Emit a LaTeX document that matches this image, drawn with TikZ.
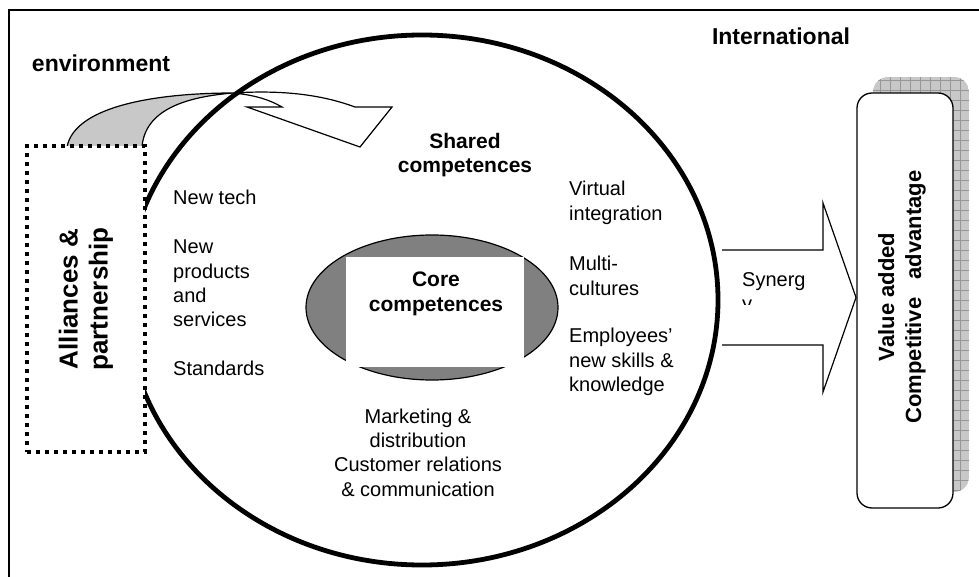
\documentclass[tikz,border=0pt]{standalone}
\usepackage{fontspec}
\setmainfont{Liberation Sans}
\usetikzlibrary{shapes.geometric}
\tikzset{
  txt/.style={inner sep=0pt, align=left, font=\fontsize{20}{24.4}\selectfont},
  hdr/.style={inner sep=0pt, align=center, font=\bfseries\fontsize{21}{24.4}\selectfont},
  big/.style={inner sep=0pt, align=center, font=\bfseries\fontsize{22}{27}\selectfont},
  dotbox/.style={draw, fill=white, line width=4pt, dash pattern=on 4pt off 5pt,
    minimum width=118, minimum height=306, inner sep=0pt},
  band/.style={draw, line width=1.2pt},
}
\definecolor{bandgrey}{RGB}{200,200,200}
\definecolor{gridgrey}{RGB}{150,150,150}

\begin{document}
\begin{tikzpicture}[x=1pt,y=-1pt]
    \useasboundingbox[fill=white] (0,0) rectangle (979,577);
    % frame
    \draw[line width=1.3pt] (9,577) |- (979,10);

    % curved arrow out of the alliances box
    \coordinate (bl) at (67,147);
    \coordinate (br) at (142,147);
    \coordinate (tw) at (233,93);
    \fill[bandgrey] (bl) .. controls (75,105) and (160,93) .. (tw)
        .. controls (185,97) and (145,110) .. (br) -- cycle;
    \draw[band] (bl) .. controls (75,105) and (160,93) .. (tw)
        .. controls (255,95) and (270,100) .. (282,107) -- (247,107) -- (360,147)
        -- (392,107) -- (355,107) .. controls (320,94) and (280,90) .. (tw)
        .. controls (185,97) and (145,110) .. (br);

    % synergy arrow
    \draw[fill=white, line width=1.2pt] (722,250) -- (823,250) -- (823,203) -- (856,297.5)
        -- (823,392) -- (823,345) -- (722,345);

    % shared and core competences
    \node (shared) [ellipse, draw, line width=4.8pt, minimum width=592, minimum height=530] at (422,300) {};
    \node (core) [ellipse, draw, line width=1.2pt, fill=gray, minimum width=252, minimum height=145] at (432,307.5) {};
    \node (corebox) [fill=white, inner sep=0pt, minimum width=178, minimum height=110] at (435,312) {};

    % alliances box
    \node (allybox) [dotbox] at (86,299) {};
    \node (ally) [big, rotate=90, font=\bfseries\fontsize{26}{30}\selectfont] at (allybox) {Alliances \&\\partnership};

    % value box with shadow
    \begin{scope}
        \clip[rounded corners=15pt] (873,77) rectangle (969,492);
        \fill[bandgrey] (873,77) rectangle (969,492);
        \draw[gridgrey, line width=.5pt] (870,77) grid[step=10pt] (970,495);
    \end{scope}
    \node (valbox) [draw, fill=white, line width=1.3pt, rounded corners=15pt, minimum width=96, minimum height=415] at (905,300.5) {};
    \node (val) [big, rotate=90] at (902,297) {Value added\\Competitive\ \ \ advantage};

    % labels
    \node (env) [big, font=\bfseries\fontsize{23}{27}\selectfont] at (101,63) {environment};
    \node (intl) [big, font=\bfseries\fontsize{23}{27}\selectfont] at (781,36) {International};
    \node (sharedtxt) [hdr] at (465,155) {Shared\\competences};
    \node (coretxt) [hdr] at (436,294) {Core\\competences};
    \node (tech) [txt, anchor=west] at (173,197) {New tech};
    \node (prod) [txt, anchor=west] at (173,283.5) {New\\products\\and\\services};
    \node (std) [txt, anchor=west] at (173,368) {Standards};
    \node (virt) [txt, anchor=west] at (569,203) {Virtual\\integration};
    \node (multi) [txt, anchor=west] at (569,276) {Multi-\\cultures};
    \node (empl) [txt, anchor=west] at (569,362) {Employees’\\new skills \&\\knowledge};
    \node (mkt) [txt, align=center] at (418,452.5) {Marketing \&\\distribution\\Customer relations\\\& communication};
    \begin{scope}
        \clip (730,255) rectangle (815,304);
        \node (syn) [txt, anchor=north west] at (742,272) {Synerg\\y};
    \end{scope}
\end{tikzpicture}
\end{document}
